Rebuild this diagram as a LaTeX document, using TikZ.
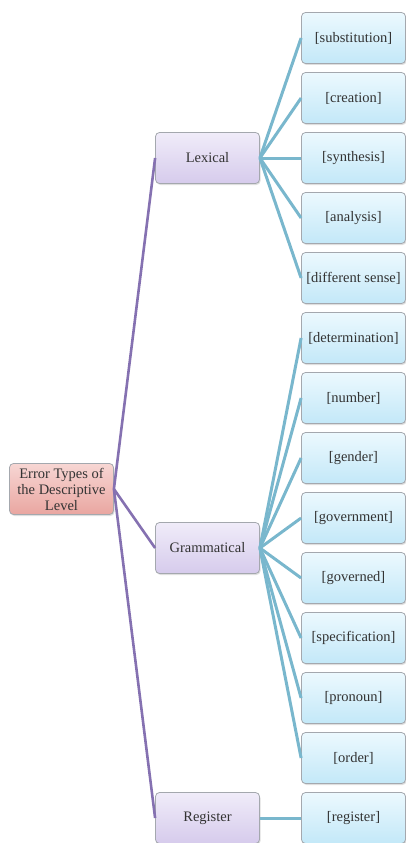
\documentclass[tikz,border=0pt]{standalone}
\usepackage{fontspec}
\setmainfont{Liberation Serif}
\usetikzlibrary{shadows}
\definecolor{txtgray}{HTML}{333333}
\definecolor{rootTop}{HTML}{F7D6D3}
\definecolor{rootBot}{HTML}{E9A6A1}
\definecolor{midTop}{HTML}{F0ECF9}
\definecolor{midBot}{HTML}{D6CBEC}
\definecolor{leafTop}{HTML}{ECF9FE}
\definecolor{leafBot}{HTML}{C3E8F8}
\definecolor{boxline}{HTML}{A4A8AE}
\definecolor{purpleline}{HTML}{8571B1}
\definecolor{blueline}{HTML}{79B7CD}

\begin{document}
\begin{tikzpicture}[x=1pt,y=-1pt]
		\tikzset{box/.style={draw=boxline, line width=0.8pt, rounded corners=4pt, minimum width=104pt, minimum height=51pt, inner sep=1pt, align=center, text=txtgray, font=\fontsize{14.5}{16}\selectfont, drop shadow={opacity=0.25, shadow xshift=1pt, shadow yshift=-1.5pt}},
			rootbox/.style={box, top color=rootTop, bottom color=rootBot},
			midbox/.style={box, top color=midTop, bottom color=midBot},
			leafbox/.style={box, top color=leafTop, bottom color=leafBot},
			rootline/.style={purpleline, line width=2.6pt},
			leafline/.style={blueline, line width=3pt}};
		\useasboundingbox (0,0) rectangle (406,843);
		% first level
		\node[rootbox] (root) at (61.5,489) {Error Types of\\the Descriptive\\Level};
		\node[midbox] (lex) at (207.5,158) {Lexical};
		\node[midbox] (gram) at (207.5,548) {Grammatical};
		\node[midbox] (reg) at (207.5,818) {Register};
		% leaves
		\foreach \t [count=\i from 0] in {{[substitution]},{[creation]},{[synthesis]},{[analysis]},{[different sense]},{[determination]},{[number]},{[gender]},{[government]},{[governed]},{[specification]},{[pronoun]},{[order]},{[register]}}
			\node[leafbox] (leaf\i) at (353.5,38+60*\i) {\t};
		% connectors
		\foreach \m in {lex,gram,reg}
			\draw[rootline] (root.east) -- (\m.west);
		\foreach \i in {0,...,4}
			\draw[leafline] (lex.east) -- (leaf\i.west);
		\foreach \i in {5,...,12}
			\draw[leafline] (gram.east) -- (leaf\i.west);
		\draw[leafline] (reg.east) -- (leaf13.west);
	\end{tikzpicture}
\end{document}
